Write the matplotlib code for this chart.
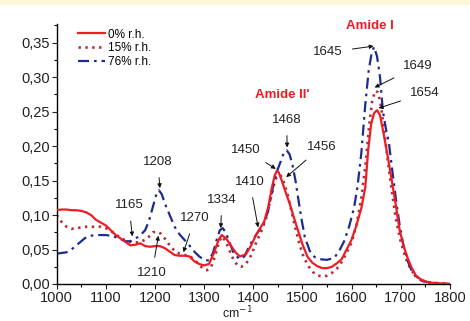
import numpy as np
import matplotlib.pyplot as plt
from matplotlib.ticker import FuncFormatter, MultipleLocator
from matplotlib.patches import Rectangle

plt.rcParams['font.family'] = ['Liberation Sans', 'DejaVu Sans']

# 0% r.h. (solid red)
x_0 = [1000, 1010, 1020, 1030, 1040, 1050, 1060, 1070, 1080, 1090, 1100, 1110, 1120, 1130,
       1140, 1150, 1160, 1170, 1180, 1190, 1200, 1210, 1220, 1230, 1240, 1250, 1260, 1270,
       1280, 1290, 1300, 1310, 1320, 1330, 1336, 1345, 1355, 1365, 1373, 1385, 1395, 1405,
       1414, 1422, 1430, 1438, 1444, 1448, 1452, 1458, 1466, 1474, 1482, 1490, 1500, 1510,
       1520, 1530, 1540, 1550, 1560, 1570, 1580, 1590, 1600, 1610, 1620, 1628, 1634, 1640,
       1646, 1652, 1658, 1664, 1670, 1676, 1682, 1690, 1698, 1706, 1714, 1722, 1732, 1745,
       1760, 1780, 1800]
y_0 = [0.107, 0.108, 0.108, 0.107, 0.107, 0.106, 0.104, 0.100, 0.093, 0.089, 0.085, 0.078,
       0.071, 0.066, 0.061, 0.056, 0.057, 0.059, 0.055, 0.054, 0.055, 0.055, 0.052, 0.047,
       0.042, 0.041, 0.041, 0.040, 0.033, 0.029, 0.027, 0.029, 0.045, 0.065, 0.071, 0.066,
       0.055, 0.045, 0.040, 0.043, 0.055, 0.070, 0.081, 0.090, 0.110, 0.140, 0.158, 0.164,
       0.162, 0.150, 0.133, 0.117, 0.098, 0.080, 0.058, 0.040, 0.031, 0.026, 0.023, 0.023,
       0.025, 0.030, 0.036, 0.050, 0.064, 0.085, 0.110, 0.140, 0.195, 0.232, 0.248, 0.252,
       0.245, 0.223, 0.200, 0.175, 0.150, 0.115, 0.078, 0.055, 0.038, 0.024, 0.011, 0.005,
       0.002, 0.001, 0.0]

# 15% r.h. (dotted dark red)
x_15 = [1000, 1010, 1020, 1030, 1040, 1050, 1060, 1070, 1080, 1090, 1100, 1110, 1120, 1130,
        1140, 1150, 1160, 1170, 1180, 1190, 1196, 1204, 1212, 1220, 1230, 1240, 1250, 1260,
        1270, 1280, 1290, 1298, 1306, 1314, 1322, 1330, 1336, 1344, 1352, 1360, 1368, 1376,
        1386, 1396, 1406, 1416, 1426, 1436, 1444, 1450, 1456, 1462, 1470, 1478, 1486, 1494,
        1502, 1512, 1522, 1532, 1542, 1550, 1560, 1570, 1580, 1590, 1600, 1610, 1620, 1628,
        1636, 1642, 1648, 1654, 1660, 1666, 1672, 1680, 1690, 1700, 1710, 1720, 1730, 1745,
        1760, 1780, 1800]
y_15 = [0.100, 0.090, 0.083, 0.080, 0.081, 0.082, 0.083, 0.083, 0.083, 0.083, 0.081, 0.077,
        0.072, 0.067, 0.063, 0.061, 0.060, 0.061, 0.064, 0.070, 0.075, 0.076, 0.073, 0.066,
        0.056, 0.048, 0.044, 0.042, 0.041, 0.035, 0.028, 0.022, 0.020, 0.024, 0.040, 0.060,
        0.069, 0.062, 0.048, 0.035, 0.027, 0.025, 0.030, 0.042, 0.060, 0.076, 0.095, 0.125,
        0.150, 0.158, 0.157, 0.148, 0.130, 0.105, 0.080, 0.058, 0.040, 0.026, 0.017, 0.012,
        0.011, 0.012, 0.016, 0.022, 0.032, 0.045, 0.060, 0.085, 0.125, 0.170, 0.230, 0.265,
        0.280, 0.278, 0.258, 0.225, 0.190, 0.145, 0.095, 0.062, 0.038, 0.022, 0.012, 0.005,
        0.002, 0.001, 0.0]

# 76% r.h. (dash-dot blue)
x_76 = [1000, 1010, 1020, 1030, 1040, 1050, 1060, 1070, 1080, 1090, 1100, 1110, 1120, 1130,
        1140, 1150, 1158, 1165, 1172, 1180, 1188, 1195, 1202, 1208, 1214, 1220, 1230, 1240,
        1250, 1260, 1270, 1280, 1290, 1300, 1310, 1318, 1326, 1332, 1338, 1344, 1352, 1360,
        1372, 1382, 1392, 1400, 1410, 1420, 1430, 1440, 1448, 1456, 1462, 1468, 1474, 1480,
        1486, 1492, 1498, 1505, 1515, 1525, 1535, 1550, 1565, 1575, 1585, 1595, 1605, 1612,
        1620, 1628, 1635, 1641, 1646, 1652, 1658, 1664, 1670, 1676, 1682, 1690, 1698, 1706,
        1714, 1722, 1732, 1745, 1760, 1780, 1800]
y_76 = [0.044, 0.045, 0.046, 0.050, 0.056, 0.062, 0.068, 0.070, 0.071, 0.071, 0.071, 0.070,
        0.068, 0.065, 0.062, 0.062, 0.065, 0.068, 0.072, 0.078, 0.092, 0.110, 0.128, 0.136,
        0.130, 0.117, 0.100, 0.083, 0.072, 0.064, 0.056, 0.047, 0.040, 0.035, 0.034, 0.045,
        0.065, 0.078, 0.081, 0.075, 0.060, 0.045, 0.036, 0.040, 0.055, 0.065, 0.076, 0.085,
        0.105, 0.140, 0.163, 0.178, 0.190, 0.194, 0.188, 0.172, 0.150, 0.122, 0.095, 0.068,
        0.048, 0.039, 0.036, 0.035, 0.038, 0.048, 0.062, 0.083, 0.110, 0.140, 0.190, 0.260,
        0.310, 0.335, 0.344, 0.330, 0.300, 0.250, 0.225, 0.205, 0.170, 0.125, 0.085, 0.055,
        0.034, 0.020, 0.009, 0.004, 0.002, 0.001, 0.0]

labels = ['0% r.h.', '15% r.h.', '76% r.h.']

# peak labels: text, arrow tip (x, y), text position (x, y)
peak_labels = ['1165', '1208', '1210', '1270', '1334', '1410', '1450', '1468', '1456',
               '1645', '1649', '1654']
peak_tips = [(1154, 0.069), (1210, 0.139), (1207, 0.070), (1258, 0.046), (1334, 0.081),
             (1410, 0.082), (1446, 0.167), (1469, 0.198), (1467, 0.155),
             (1645, 0.345), (1647, 0.285), (1655, 0.255)]
peak_text = [(1147, 0.114), (1206, 0.177), (1194, 0.016), (1281, 0.095), (1336, 0.122),
             (1393, 0.148), (1385, 0.194), (1468, 0.238), (1539, 0.199),
             (1552, 0.336), (1735, 0.316), (1749, 0.277)]

fig = plt.figure(figsize=(4.70, 3.21), dpi=100)
fig.patches.append(Rectangle((0, 1 - 5 / 321), 1, 5 / 321, transform=fig.transFigure,
                             facecolor='#fcf7d6', edgecolor='none', zorder=0))
ax = fig.add_axes([0.1206, 0.1153, 0.8364, 0.8097])

ax.plot(x_0, y_0, color='#ee1c25', lw=1.6, label=labels[0], zorder=3)
ax.plot(x_15, y_15, color='#b52a35', lw=1.9, ls=(0, (0.9, 1.7)), label=labels[1], zorder=2)
ax.plot(x_76, y_76, color='#1e2b8f', lw=1.6, ls=(0, (5, 2.2, 1.2, 2.2)), label=labels[2],
        zorder=2)

for t, tip, pos in zip(peak_labels, peak_tips, peak_text):
    ax.annotate(t, xy=tip, xytext=pos, ha='center', va='center', fontsize=9.5,
                color='#222222',
                arrowprops=dict(arrowstyle='-|>', color='#111111', lw=0.7,
                                mutation_scale=6, shrinkA=5, shrinkB=0))

ax.text(1637, 0.374, 'Amide I', color='#ee1c25', fontsize=9.5, fontweight='bold',
        ha='center', va='center')
ax.text(1460, 0.274, "Amide II'", color='#ee1c25', fontsize=9.5, fontweight='bold',
        ha='center', va='center')

ax.set_xlim(1000, 1800)
ax.set_ylim(0, 0.377)
ax.xaxis.set_major_locator(MultipleLocator(100))
ax.xaxis.set_minor_locator(MultipleLocator(50))
ax.yaxis.set_major_locator(MultipleLocator(0.05))
ax.yaxis.set_minor_locator(MultipleLocator(0.025))
ax.yaxis.set_major_formatter(FuncFormatter(lambda v, p: f'{v:.2f}'.replace('.', ',')))
ax.tick_params(which='major', direction='out', length=3.5, width=0.8, labelsize=10.5,
               pad=1.5, colors='#222222')
ax.tick_params(which='minor', direction='out', length=2, width=0.8)
for s in ['top', 'right']:
    ax.spines[s].set_visible(False)
for s in ['left', 'bottom']:
    ax.spines[s].set_linewidth(1.0)

ax.set_xlabel('cm$^{-1}$', fontsize=9, color='#222222')
ax.xaxis.set_label_coords(0.46, -0.08)

ax.legend(loc='upper left', bbox_to_anchor=(0.035, 1.01), frameon=False, fontsize=8.5,
          handlelength=2.3, handletextpad=0.3, labelspacing=0.15, borderaxespad=0.2)

fig.savefig('out.png', dpi=100)
